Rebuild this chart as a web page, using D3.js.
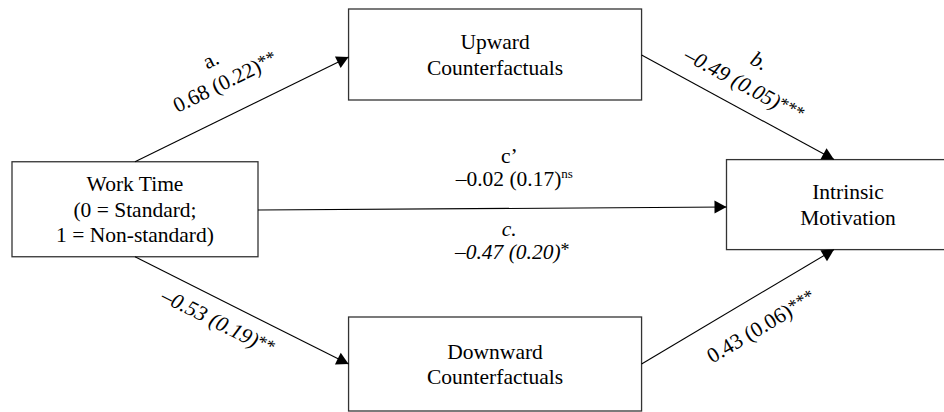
<!DOCTYPE html>
<html>
<head>
<meta charset="utf-8">
<script src="https://cdn.jsdelivr.net/npm/d3@7"></script>
</head>
<body style="margin:0">
<div id="chart"></div>
<script>
// Boxes of the mediation model
const nodeLabels = [
    ['Work Time', '(0 = Standard;', '1 = Non-standard)'],
    ['Upward', 'Counterfactuals'],
    ['Downward', 'Counterfactuals'],
    ['Intrinsic', 'Motivation']
];

// Paths (index into nodeLabels)
const pathFrom = [0, 1, 0, 2, 0];
const pathTo = [1, 3, 2, 3, 3];
const pathNames = ['a.', 'b.', '', '', 'c\u2019'];
const pathEstimates = ['0.68', '\u20130.49', '\u20130.53', '0.43', '\u20130.02'];
const pathErrors = ['0.22', '0.05', '0.19', '0.06', '0.17'];
const pathSig = ['**', '***', '**', '***', 'ns'];

// Total effect (c path), shown under the direct path
const totalName = 'c.';
const totalEstimate = '\u20130.47';
const totalError = '0.20';
const totalSig = '*';

// Layout: grid position and box size of each node
const nodeLayout = [
    { col: 0, row: 1, w: 246, h: 95 },
    { col: 1.01, row: 0, w: 293, h: 91 },
    { col: 1.01, row: 2, w: 293, h: 94 },
    { col: 2, row: 0.97, w: 243, h: 90 }
];

// Where each arrow leaves / enters a box, and where its label sits
const pathLayout = [
    { out: ['top', 0], in: ['left', 2.5], along: -3, base: -25, nameAlong: -6, nameBase: -51, rotate: true, italic: false },
    { out: ['right', 0.5], in: ['top', -14], along: -5, base: -16, nameAlong: -3, nameBase: -44, rotate: true, italic: true },
    { out: ['bottom', 0], in: ['left', 0], along: -16, base: 28, rotate: true, italic: true },
    { out: ['right', 0], in: ['bottom', -14], along: 10, base: 36, rotate: true, italic: false },
    { out: ['right', 0.8], in: ['left', 2.4], along: 22, base: -23, nameAlong: 17, nameBase: -46, rotate: false, italic: false }
];
const totalLayout = { along: 20, base: 50, nameAlong: 17, nameBase: 27 };

const svg = d3.select('#chart')
    .append('svg')
    .attr('width', 944)
    .attr('height', 412)
    .attr('font-family', 'Liberation Serif')
    .attr('font-size', 21.5);

const x = d3.scaleLinear().domain([0, 2]).range([135, 848]);
const y = d3.scaleLinear().domain([0, 2]).range([54.5, 364]);
const lineHeight = 25.5;

function port(i, side, off) {
    const n = nodeLayout[i];
    const cx = x(n.col), cy = y(n.row);
    if (side === 'top') return [cx + off, cy - n.h / 2];
    if (side === 'bottom') return [cx + off, cy + n.h / 2];
    if (side === 'left') return [cx - n.w / 2, cy + off];
    return [cx + n.w / 2, cy + off];
}

function timesText(sel, italic) {
    sel.attr('font-family', 'Liberation Serif')
        .attr('font-size', 21.5)
        .attr('font-style', italic ? 'italic' : 'normal')
        .attr('fill', '#000');
}

// boxes
const nodes = svg.selectAll('.node')
    .data(nodeLabels)
    .enter().append('g')
    .attr('class', 'node')
    .attr('transform', (d, i) => 'translate(' + x(nodeLayout[i].col) + ',' + y(nodeLayout[i].row) + ')');

nodes.append('rect')
    .attr('x', (d, i) => -nodeLayout[i].w / 2)
    .attr('y', (d, i) => -nodeLayout[i].h / 2)
    .attr('width', (d, i) => nodeLayout[i].w)
    .attr('height', (d, i) => nodeLayout[i].h)
    .attr('fill', '#fff')
    .attr('stroke', '#333')
    .attr('stroke-width', 1.3);

nodes.each(function(lines) {
    const top = -(lines.length - 1) / 2 * lineHeight + 7.5;
    d3.select(this).selectAll('text')
        .data(lines)
        .enter().append('text')
        .attr('x', 0)
        .attr('y', (d, j) => top + j * lineHeight)
        .attr('text-anchor', 'middle')
        .call(timesText, false)
        .text(d => d);
});

// arrows
const paths = pathFrom.map((f, i) => {
    const L = pathLayout[i];
    const p0 = port(f, L.out[0], L.out[1]);
    const p1 = port(pathTo[i], L.in[0], L.in[1]);
    const ang = Math.atan2(p1[1] - p0[1], p1[0] - p0[0]) * 180 / Math.PI;
    return { p0, p1, L, i, ang };
});

svg.selectAll('.path')
    .data(paths)
    .enter().append('line')
    .attr('class', 'path')
    .attr('x1', d => d.p0[0])
    .attr('y1', d => d.p0[1])
    .attr('x2', d => d.p1[0])
    .attr('y2', d => d.p1[1])
    .attr('stroke', '#000')
    .attr('stroke-width', 1.1);

// arrow heads
svg.selectAll('.head')
    .data(paths)
    .enter().append('path')
    .attr('class', 'head')
    .attr('d', 'M0,0 L-12,-6.5 L-12,6.5 Z')
    .attr('transform', d => 'translate(' + d.p1[0] + ',' + d.p1[1] + ') rotate(' + d.ang + ')')
    .attr('fill', '#000');

function addLabel(g, along, base, est, se, sig, italic) {
    const t = g.append('text')
        .attr('x', along)
        .attr('y', base)
        .attr('text-anchor', 'middle')
        .call(timesText, italic)
        .text(est + ' (' + se + ')');
    if (sig === 'ns') {
        t.append('tspan').attr('dy', -8).attr('font-size', 13).attr('font-style', 'normal').text(sig);
    } else {
        t.append('tspan').attr('dy', -3).attr('font-size', 18).attr('font-style', 'normal').text(sig);
    }
}

// path labels
paths.forEach(d => {
    const mx = (d.p0[0] + d.p1[0]) / 2, my = (d.p0[1] + d.p1[1]) / 2;
    const ang = d.L.rotate ? d.ang : 0;
    const g = svg.append('g')
        .attr('transform', 'translate(' + mx + ',' + my + ') rotate(' + ang + ')');
    addLabel(g, d.L.along, d.L.base, pathEstimates[d.i], pathErrors[d.i], pathSig[d.i], d.L.italic);
    if (pathNames[d.i]) {
        g.append('text')
            .attr('x', d.L.nameAlong)
            .attr('y', d.L.nameBase)
            .attr('text-anchor', 'middle')
            .call(timesText, d.L.italic)
            .text(pathNames[d.i]);
    }
    // total effect goes under the direct path
    if (d.i === 4) {
        addLabel(g, totalLayout.along, totalLayout.base, totalEstimate, totalError, totalSig, true);
        g.append('text')
            .attr('x', totalLayout.nameAlong)
            .attr('y', totalLayout.nameBase)
            .attr('text-anchor', 'middle')
            .call(timesText, true)
            .text(totalName);
    }
});
</script>
</body>
</html>
